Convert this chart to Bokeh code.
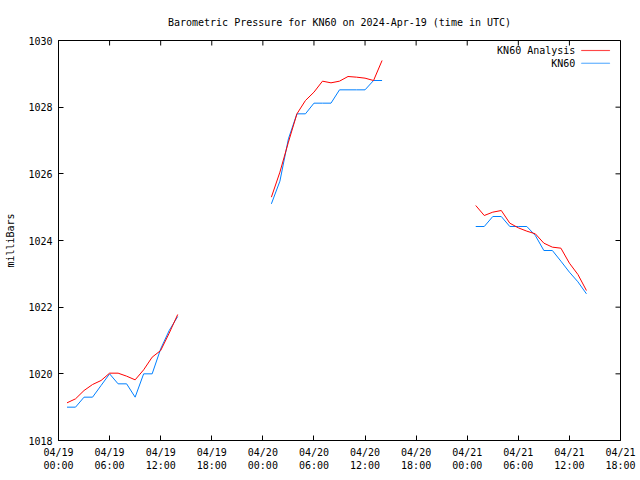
import math
from bokeh.plotting import figure
from bokeh.models import Range1d, FixedTicker, Label, BoxAnnotation
from bokeh.embed import file_html
from bokeh.resources import INLINE

# ---- data (hours since 2024-04-19 00:00 UTC) ----
hours_1 = [1, 2, 3, 4, 5, 6, 7, 8, 9, 10, 11, 12, 13, 14]
analysis_1 = [1019.13, 1019.25, 1019.5, 1019.68, 1019.8, 1020.02, 1020.02, 1019.93, 1019.82, 1020.12, 1020.5, 1020.7, 1021.22, 1021.78]
obs_1 = [1019.0, 1019.0, 1019.3, 1019.3, 1019.65, 1020.0, 1019.7, 1019.7, 1019.3, 1020.0, 1020.0, 1020.75, 1021.3, 1021.72]

hours_2 = [25, 26, 27, 28, 29, 30, 31, 32, 33, 34, 35, 36, 37, 38]
analysis_2 = [1025.3, 1026.05, 1026.95, 1027.8, 1028.2, 1028.45, 1028.78, 1028.73, 1028.78, 1028.92, 1028.9, 1028.87, 1028.8, 1029.4]
obs_2 = [1025.1, 1025.78, 1027.05, 1027.8, 1027.8, 1028.12, 1028.12, 1028.12, 1028.52, 1028.52, 1028.52, 1028.52, 1028.8, 1028.8]

hours_3 = [49, 50, 51, 52, 53, 54, 55, 56, 57, 58, 59, 60, 61, 62]
analysis_3 = [1025.05, 1024.75, 1024.85, 1024.9, 1024.52, 1024.38, 1024.28, 1024.2, 1023.92, 1023.8, 1023.77, 1023.32, 1022.98, 1022.5]
obs_3 = [1024.42, 1024.42, 1024.72, 1024.72, 1024.42, 1024.42, 1024.42, 1024.15, 1023.7, 1023.7, 1023.38, 1023.05, 1022.76, 1022.4]

x_ticks = [0, 6, 12, 18, 24, 30, 36, 42, 48, 54, 60, 66]
x_tick_labels = ["04/19\n00:00", "04/19\n06:00", "04/19\n12:00", "04/19\n18:00",
                 "04/20\n00:00", "04/20\n06:00", "04/20\n12:00", "04/20\n18:00",
                 "04/21\n00:00", "04/21\n06:00", "04/21\n12:00", "04/21\n18:00"]
y_ticks = [1018, 1020, 1022, 1024, 1026, 1028, 1030]

series_names = ["KN60 Analysis", "KN60"]
title_text = "Barometric Pressure for KN60 on 2024-Apr-19 (time in UTC)"
y_label = "milliBars"

RED = "#ff0000"
BLUE = "#0080ff"
FONT = "DejaVu Sans Mono"
FS = "10px"
TICK = 5

p = figure(width=640, height=480, output_backend="svg", toolbar_location=None,
           x_range=Range1d(0, 66), y_range=Range1d(1018, 1030),
           min_border_left=58, min_border_right=20, min_border_top=40, min_border_bottom=40,
           title=title_text)
p.background_fill_color = "white"
p.border_fill_color = "white"
p.outline_line_color = "black"
p.outline_line_width = 1
p.xgrid.grid_line_color = None
p.ygrid.grid_line_color = None

p.title.text_font = FONT
p.title.text_font_size = FS
p.title.text_font_style = "normal"
p.title.text_color = "black"
p.title.align = "center"
p.title.standoff = 26

for ax in (p.xaxis[0], p.yaxis[0]):
    ax.axis_line_color = "black"
    ax.major_tick_line_color = "black"
    ax.minor_tick_line_color = None
    ax.major_tick_in = TICK
    ax.major_tick_out = 0
    ax.major_label_text_font = FONT
    ax.major_label_text_font_size = FS
    ax.major_label_text_color = "black"

p.xaxis.ticker = FixedTicker(ticks=x_ticks)
p.xaxis.major_label_overrides = {t: l for t, l in zip(x_ticks, x_tick_labels)}
p.xaxis.major_label_standoff = 6
p.yaxis.ticker = FixedTicker(ticks=y_ticks)
p.yaxis.major_label_standoff = 6
p.yaxis.axis_label = y_label
p.yaxis.axis_label_text_font = FONT
p.yaxis.axis_label_text_font_size = FS
p.yaxis.axis_label_text_font_style = "normal"
p.yaxis.axis_label_text_color = "black"
p.yaxis.axis_label_standoff = 9

xr, yr = p.x_range, p.y_range

# mirrored tick marks on top and right edges (half of each dash falls outside and is clipped)
p.scatter([t for t in x_ticks], [yr.end] * len(x_ticks), marker="dash", size=2 * TICK,
          angle=math.pi / 2, line_color="black", line_width=1)
p.scatter([xr.end] * len(y_ticks), y_ticks, marker="dash", size=2 * TICK,
          line_color="black", line_width=1)

for hrs, ana, obs in ((hours_1, analysis_1, obs_1), (hours_2, analysis_2, obs_2), (hours_3, analysis_3, obs_3)):
    p.line(hrs, obs, line_color=BLUE, line_width=1)
    p.line(hrs, ana, line_color=RED, line_width=1)

# gnuplot-style key (text then sample), top right
kx_text = xr.end - 5.3
ks0, ks1 = xr.end - 4.6, xr.end - 1.25
rows_y = [yr.end - 0.3, yr.end - 0.68]
for name, col, ky in zip(series_names, [RED, BLUE], rows_y):
    p.add_layout(Label(x=kx_text, y=ky, text=name, text_align="right", text_baseline="middle",
                       text_font=FONT, text_font_size=FS, text_color="black"))
    p.add_layout(BoxAnnotation(left=ks0, right=ks1, bottom=ky - 0.005, top=ky + 0.005,
                               fill_color=col, fill_alpha=1, line_color=col, line_width=1))

open("out.html", "w").write(file_html(p, INLINE))
